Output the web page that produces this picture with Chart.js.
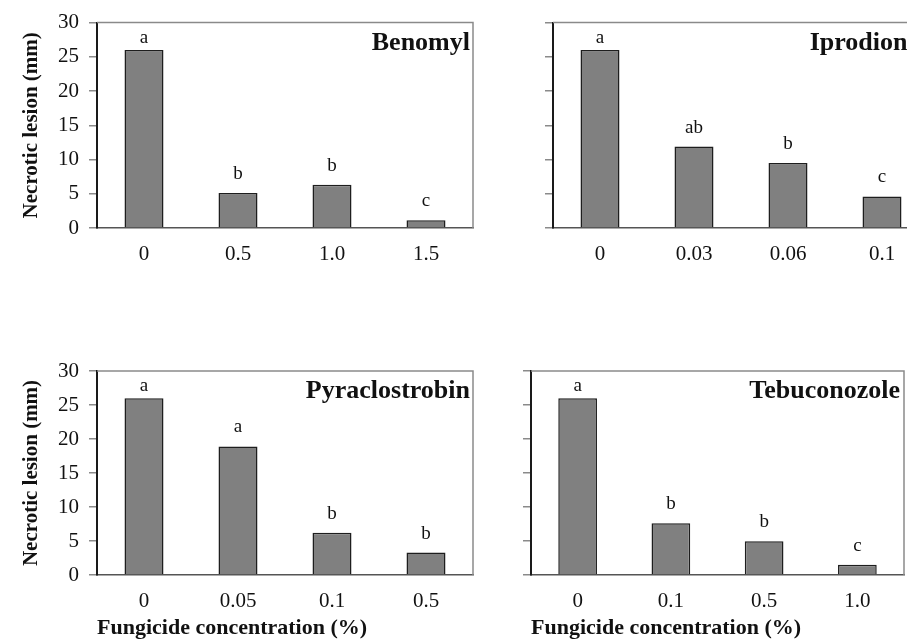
<!DOCTYPE html>
<html>
<head>
<meta charset="utf-8">
<script src="https://cdn.jsdelivr.net/npm/chart.js@4"></script>
<style>
  html, body { margin: 0; padding: 0; background: #fff; overflow: hidden; width: 907px; height: 639px; }
  .panel { position: absolute; }
</style>
</head>
<body>
<div class="panel" style="left:0px;top:0px"><canvas id="benomyl" width="480" height="270"></canvas></div>
<div class="panel" style="left:480px;top:0px"><canvas id="iprodione" width="460" height="270"></canvas></div>
<div class="panel" style="left:0px;top:340px"><canvas id="pyraclostrobin" width="480" height="299"></canvas></div>
<div class="panel" style="left:480px;top:340px"><canvas id="tebuconazole" width="427" height="299"></canvas></div>
<script>
// data
const benomylDoses = ['0', '0.5', '1.0', '1.5'];
const benomylLesion = [26.0, 5.1, 6.3, 1.15];
const benomylLetters = ['a', 'b', 'b', 'c'];

const iprodioneDoses = ['0', '0.03', '0.06', '0.1'];
const iprodioneLesion = [26.0, 11.9, 9.5, 4.6];
const iprodioneLetters = ['a', 'ab', 'b', 'c'];

const pyraclostrobinDoses = ['0', '0.05', '0.1', '0.5'];
const pyraclostrobinLesion = [26.0, 18.9, 6.2, 3.3];
const pyraclostrobinLetters = ['a', 'a', 'b', 'b'];

const tebuconazoleDoses = ['0', '0.1', '0.5', '1.0'];
const tebuconazoleLesion = [26.0, 7.6, 4.95, 1.5];
const tebuconazoleLetters = ['a', 'b', 'b', 'c'];

const panelTitles = ['Benomyl', 'Iprodione', 'Pyraclostrobin', 'Tebuconozole'];
const yTicks = [0, 5, 10, 15, 20, 25, 30];
const yTitle = 'Necrotic lesion (mm)';
const xTitle = 'Fungicide concentration (%)';

const serif = '"Liberation Serif", "Times New Roman", serif';

// top/right frame, significance letters and panel name
const panelDecor = {
    id: 'panelDecor',
    afterDatasetsDraw(chart, args, opts) {
        const ctx = chart.ctx;
        const a = chart.chartArea;
        ctx.save();
        ctx.strokeStyle = '#8a8a8a';
        ctx.lineWidth = 1.5;
        ctx.beginPath();
        ctx.moveTo(a.left, a.top);
        ctx.lineTo(a.right, a.top);
        ctx.lineTo(a.right, a.bottom);
        ctx.stroke();

        ctx.fillStyle = '#111';
        ctx.font = '19px ' + serif;
        ctx.textAlign = 'center';
        ctx.textBaseline = 'middle';
        chart.getDatasetMeta(0).data.forEach((bar, i) => {
            const y = Math.max(bar.y - 19, a.top + 15);
            ctx.fillText(opts.letters[i], bar.x, y);
        });

        ctx.font = 'bold 26px ' + serif;
        ctx.textAlign = 'right';
        ctx.textBaseline = 'alphabetic';
        ctx.fillText(opts.title, a.right - opts.inset, a.top + 27);
        ctx.restore();
    }
};

function makePanel(id, doses, lesion, letters, title, o) {
    const ctx = document.getElementById(id).getContext('2d');
    return new Chart(ctx, {
        type: 'bar',
        data: {
            labels: doses,
            datasets: [{
                data: lesion,
                backgroundColor: '#808080',
                borderColor: '#1e1e1e',
                borderWidth: 1.5,
                categoryPercentage: 1,
                barPercentage: 0.415
            }]
        },
        options: {
            responsive: false,
            animation: false,
            devicePixelRatio: 1,
            layout: { padding: { top: o.padTop, right: o.padRight, left: 0, bottom: 0 } },
            plugins: {
                legend: { display: false },
                tooltip: { enabled: false },
                panelDecor: { letters: letters, title: title, inset: o.inset }
            },
            scales: {
                x: {
                    grid: { display: false },
                    border: { display: true, color: '#555', width: 1.5 },
                    ticks: { color: '#111', font: { family: serif, size: 21 }, padding: 6 },
                    title: {
                        display: o.xTitle,
                        text: xTitle,
                        align: 'start',
                        color: '#111',
                        font: { family: serif, size: 22, weight: 'bold', lineHeight: 1 },
                        padding: { top: 0, bottom: 0 }
                    },
                    afterFit(scale) { scale.height = o.xHeight; }
                },
                y: {
                    min: 0,
                    max: 30,
                    afterBuildTicks(scale) { scale.ticks = yTicks.map(v => ({ value: v })); },
                    grid: { display: true, drawOnChartArea: false, drawTicks: true, tickLength: 8, color: '#8a8a8a', lineWidth: 1.5 },
                    border: { display: true, color: '#1a1a1a', width: 2 },
                    ticks: {
                        color: '#111',
                        font: { family: serif, size: 21 },
                        padding: 10,
                        callback: v => o.yLabels ? v : ''
                    },
                    title: {
                        display: o.yLabels,
                        text: yTitle,
                        color: '#111',
                        font: { family: serif, size: 21, weight: 'bold', lineHeight: 1 },
                        padding: { top: 21, bottom: 0 }
                    },
                    afterFit(scale) { scale.width = o.yWidth; }
                }
            }
        },
        plugins: [panelDecor]
    });
}

makePanel('benomyl', benomylDoses, benomylLesion, benomylLetters, panelTitles[0],
    { padTop: 20, padRight: 7, xHeight: 42, yWidth: 97, yLabels: true, xTitle: false, inset: 3 });
makePanel('iprodione', iprodioneDoses, iprodioneLesion, iprodioneLetters, panelTitles[1],
    { padTop: 20, padRight: 11, xHeight: 42, yWidth: 73, yLabels: false, xTitle: false, inset: 10 });
makePanel('pyraclostrobin', pyraclostrobinDoses, pyraclostrobinLesion, pyraclostrobinLetters, panelTitles[2],
    { padTop: 31, padRight: 7, xHeight: 64, yWidth: 97, yLabels: true, xTitle: true, inset: 3 });
makePanel('tebuconazole', tebuconazoleDoses, tebuconazoleLesion, tebuconazoleLetters, panelTitles[3],
    { padTop: 31, padRight: 3, xHeight: 64, yWidth: 51, yLabels: false, xTitle: true, inset: 4 });
</script>
</body>
</html>
